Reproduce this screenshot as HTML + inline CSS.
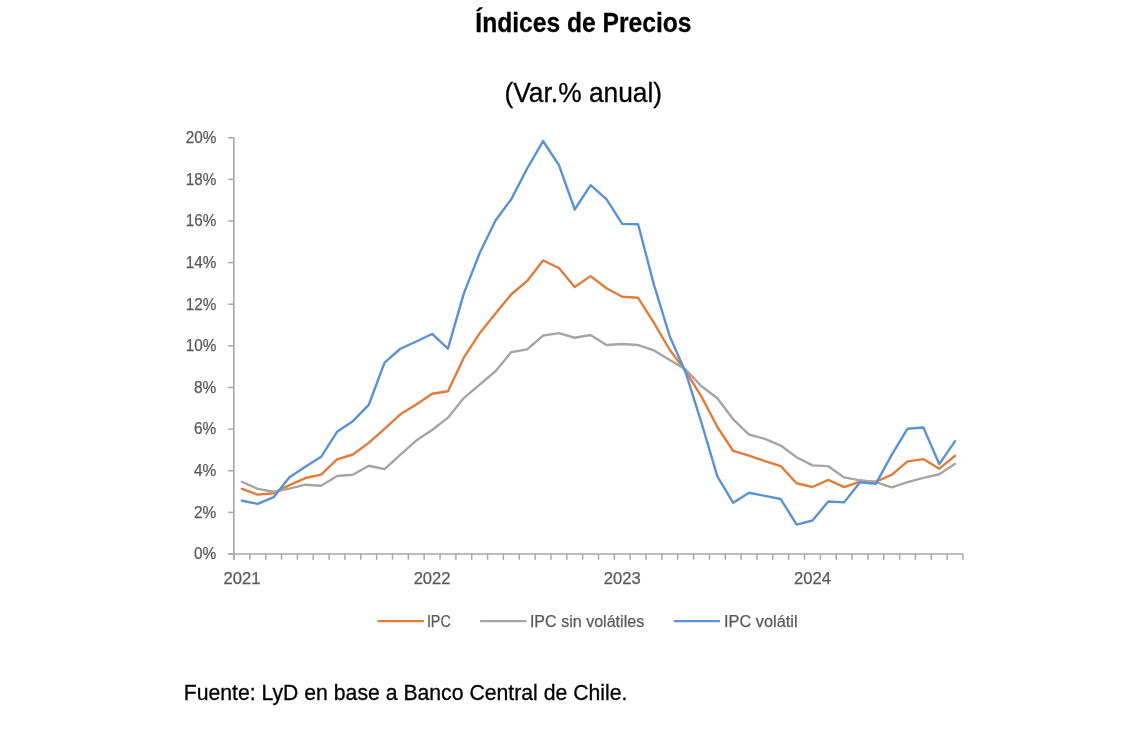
<!DOCTYPE html>
<html><head><meta charset="utf-8"><style>
html,body{margin:0;padding:0;background:#fff;width:1142px;height:752px;overflow:hidden}
svg{display:block;will-change:transform}
text{font-family:"Liberation Sans",sans-serif}
.yl{font-size:16.6px;fill:#595959;stroke:#595959;stroke-width:0.25px}
.xl{font-size:16.6px;fill:#595959;stroke:#595959;stroke-width:0.25px}
.lg{font-size:17px;fill:#595959;stroke:#595959;stroke-width:0.25px}
.t1{font-size:27px;font-weight:bold;fill:#000;stroke:#000;stroke-width:0.3px}
.t2{font-size:27.5px;fill:#000;stroke:#000;stroke-width:0.3px}
.ft{font-size:22.3px;fill:#000;stroke:#000;stroke-width:0.3px}
</style></head><body>
<svg width="1142" height="752" viewBox="0 0 1142 752">
<line x1="228.3" y1="554.00" x2="234" y2="554.00" stroke="#a6a6a6" stroke-width="1.5"/>
<text x="216.3" y="559.30" text-anchor="end" class="yl" textLength="22.3" lengthAdjust="spacingAndGlyphs">0%</text>
<line x1="228.3" y1="512.37" x2="234" y2="512.37" stroke="#a6a6a6" stroke-width="1.5"/>
<text x="216.3" y="517.67" text-anchor="end" class="yl" textLength="22.3" lengthAdjust="spacingAndGlyphs">2%</text>
<line x1="228.3" y1="470.74" x2="234" y2="470.74" stroke="#a6a6a6" stroke-width="1.5"/>
<text x="216.3" y="476.04" text-anchor="end" class="yl" textLength="22.3" lengthAdjust="spacingAndGlyphs">4%</text>
<line x1="228.3" y1="429.11" x2="234" y2="429.11" stroke="#a6a6a6" stroke-width="1.5"/>
<text x="216.3" y="434.41" text-anchor="end" class="yl" textLength="22.3" lengthAdjust="spacingAndGlyphs">6%</text>
<line x1="228.3" y1="387.48" x2="234" y2="387.48" stroke="#a6a6a6" stroke-width="1.5"/>
<text x="216.3" y="392.78" text-anchor="end" class="yl" textLength="22.3" lengthAdjust="spacingAndGlyphs">8%</text>
<line x1="228.3" y1="345.85" x2="234" y2="345.85" stroke="#a6a6a6" stroke-width="1.5"/>
<text x="216.3" y="351.15" text-anchor="end" class="yl" textLength="30.6" lengthAdjust="spacingAndGlyphs">10%</text>
<line x1="228.3" y1="304.22" x2="234" y2="304.22" stroke="#a6a6a6" stroke-width="1.5"/>
<text x="216.3" y="309.52" text-anchor="end" class="yl" textLength="30.6" lengthAdjust="spacingAndGlyphs">12%</text>
<line x1="228.3" y1="262.59" x2="234" y2="262.59" stroke="#a6a6a6" stroke-width="1.5"/>
<text x="216.3" y="267.89" text-anchor="end" class="yl" textLength="30.6" lengthAdjust="spacingAndGlyphs">14%</text>
<line x1="228.3" y1="220.96" x2="234" y2="220.96" stroke="#a6a6a6" stroke-width="1.5"/>
<text x="216.3" y="226.26" text-anchor="end" class="yl" textLength="30.6" lengthAdjust="spacingAndGlyphs">16%</text>
<line x1="228.3" y1="179.33" x2="234" y2="179.33" stroke="#a6a6a6" stroke-width="1.5"/>
<text x="216.3" y="184.63" text-anchor="end" class="yl" textLength="30.6" lengthAdjust="spacingAndGlyphs">18%</text>
<line x1="228.3" y1="137.70" x2="234" y2="137.70" stroke="#a6a6a6" stroke-width="1.5"/>
<text x="216.3" y="143.00" text-anchor="end" class="yl" textLength="30.6" lengthAdjust="spacingAndGlyphs">20%</text>
<line x1="234.00" y1="554.0" x2="234.00" y2="559.7" stroke="#a6a6a6" stroke-width="1.5"/>
<line x1="249.85" y1="554.0" x2="249.85" y2="559.7" stroke="#a6a6a6" stroke-width="1.5"/>
<line x1="265.70" y1="554.0" x2="265.70" y2="559.7" stroke="#a6a6a6" stroke-width="1.5"/>
<line x1="281.54" y1="554.0" x2="281.54" y2="559.7" stroke="#a6a6a6" stroke-width="1.5"/>
<line x1="297.39" y1="554.0" x2="297.39" y2="559.7" stroke="#a6a6a6" stroke-width="1.5"/>
<line x1="313.24" y1="554.0" x2="313.24" y2="559.7" stroke="#a6a6a6" stroke-width="1.5"/>
<line x1="329.09" y1="554.0" x2="329.09" y2="559.7" stroke="#a6a6a6" stroke-width="1.5"/>
<line x1="344.93" y1="554.0" x2="344.93" y2="559.7" stroke="#a6a6a6" stroke-width="1.5"/>
<line x1="360.78" y1="554.0" x2="360.78" y2="559.7" stroke="#a6a6a6" stroke-width="1.5"/>
<line x1="376.63" y1="554.0" x2="376.63" y2="559.7" stroke="#a6a6a6" stroke-width="1.5"/>
<line x1="392.48" y1="554.0" x2="392.48" y2="559.7" stroke="#a6a6a6" stroke-width="1.5"/>
<line x1="408.33" y1="554.0" x2="408.33" y2="559.7" stroke="#a6a6a6" stroke-width="1.5"/>
<line x1="424.17" y1="554.0" x2="424.17" y2="559.7" stroke="#a6a6a6" stroke-width="1.5"/>
<line x1="440.02" y1="554.0" x2="440.02" y2="559.7" stroke="#a6a6a6" stroke-width="1.5"/>
<line x1="455.87" y1="554.0" x2="455.87" y2="559.7" stroke="#a6a6a6" stroke-width="1.5"/>
<line x1="471.72" y1="554.0" x2="471.72" y2="559.7" stroke="#a6a6a6" stroke-width="1.5"/>
<line x1="487.57" y1="554.0" x2="487.57" y2="559.7" stroke="#a6a6a6" stroke-width="1.5"/>
<line x1="503.41" y1="554.0" x2="503.41" y2="559.7" stroke="#a6a6a6" stroke-width="1.5"/>
<line x1="519.26" y1="554.0" x2="519.26" y2="559.7" stroke="#a6a6a6" stroke-width="1.5"/>
<line x1="535.11" y1="554.0" x2="535.11" y2="559.7" stroke="#a6a6a6" stroke-width="1.5"/>
<line x1="550.96" y1="554.0" x2="550.96" y2="559.7" stroke="#a6a6a6" stroke-width="1.5"/>
<line x1="566.80" y1="554.0" x2="566.80" y2="559.7" stroke="#a6a6a6" stroke-width="1.5"/>
<line x1="582.65" y1="554.0" x2="582.65" y2="559.7" stroke="#a6a6a6" stroke-width="1.5"/>
<line x1="598.50" y1="554.0" x2="598.50" y2="559.7" stroke="#a6a6a6" stroke-width="1.5"/>
<line x1="614.35" y1="554.0" x2="614.35" y2="559.7" stroke="#a6a6a6" stroke-width="1.5"/>
<line x1="630.20" y1="554.0" x2="630.20" y2="559.7" stroke="#a6a6a6" stroke-width="1.5"/>
<line x1="646.04" y1="554.0" x2="646.04" y2="559.7" stroke="#a6a6a6" stroke-width="1.5"/>
<line x1="661.89" y1="554.0" x2="661.89" y2="559.7" stroke="#a6a6a6" stroke-width="1.5"/>
<line x1="677.74" y1="554.0" x2="677.74" y2="559.7" stroke="#a6a6a6" stroke-width="1.5"/>
<line x1="693.59" y1="554.0" x2="693.59" y2="559.7" stroke="#a6a6a6" stroke-width="1.5"/>
<line x1="709.43" y1="554.0" x2="709.43" y2="559.7" stroke="#a6a6a6" stroke-width="1.5"/>
<line x1="725.28" y1="554.0" x2="725.28" y2="559.7" stroke="#a6a6a6" stroke-width="1.5"/>
<line x1="741.13" y1="554.0" x2="741.13" y2="559.7" stroke="#a6a6a6" stroke-width="1.5"/>
<line x1="756.98" y1="554.0" x2="756.98" y2="559.7" stroke="#a6a6a6" stroke-width="1.5"/>
<line x1="772.83" y1="554.0" x2="772.83" y2="559.7" stroke="#a6a6a6" stroke-width="1.5"/>
<line x1="788.67" y1="554.0" x2="788.67" y2="559.7" stroke="#a6a6a6" stroke-width="1.5"/>
<line x1="804.52" y1="554.0" x2="804.52" y2="559.7" stroke="#a6a6a6" stroke-width="1.5"/>
<line x1="820.37" y1="554.0" x2="820.37" y2="559.7" stroke="#a6a6a6" stroke-width="1.5"/>
<line x1="836.22" y1="554.0" x2="836.22" y2="559.7" stroke="#a6a6a6" stroke-width="1.5"/>
<line x1="852.07" y1="554.0" x2="852.07" y2="559.7" stroke="#a6a6a6" stroke-width="1.5"/>
<line x1="867.91" y1="554.0" x2="867.91" y2="559.7" stroke="#a6a6a6" stroke-width="1.5"/>
<line x1="883.76" y1="554.0" x2="883.76" y2="559.7" stroke="#a6a6a6" stroke-width="1.5"/>
<line x1="899.61" y1="554.0" x2="899.61" y2="559.7" stroke="#a6a6a6" stroke-width="1.5"/>
<line x1="915.46" y1="554.0" x2="915.46" y2="559.7" stroke="#a6a6a6" stroke-width="1.5"/>
<line x1="931.30" y1="554.0" x2="931.30" y2="559.7" stroke="#a6a6a6" stroke-width="1.5"/>
<line x1="947.15" y1="554.0" x2="947.15" y2="559.7" stroke="#a6a6a6" stroke-width="1.5"/>
<line x1="963.00" y1="554.0" x2="963.00" y2="559.7" stroke="#a6a6a6" stroke-width="1.5"/>
<line x1="233.8" y1="137.0" x2="233.8" y2="559.7" stroke="#a6a6a6" stroke-width="1.6"/>
<line x1="228.3" y1="554.0" x2="963.2" y2="554.0" stroke="#a6a6a6" stroke-width="1.6"/>
<text x="241.92" y="583.8" text-anchor="middle" class="xl">2021</text>
<text x="432.10" y="583.8" text-anchor="middle" class="xl">2022</text>
<text x="622.27" y="583.8" text-anchor="middle" class="xl">2023</text>
<text x="812.45" y="583.8" text-anchor="middle" class="xl">2024</text>
<polyline points="241.92,488.85 257.77,494.68 273.62,493.22 289.47,485.10 305.32,478.03 321.16,474.69 337.01,459.29 352.86,454.50 368.71,442.85 384.55,428.90 400.40,414.33 416.25,404.55 432.10,393.72 447.95,391.23 463.79,357.71 479.64,333.36 495.49,313.59 511.34,294.23 527.18,280.91 543.03,260.51 558.88,268.00 574.73,286.94 590.58,276.12 606.42,288.19 622.27,296.73 638.12,297.77 653.97,322.95 669.82,350.01 685.66,371.04 701.51,396.64 717.36,427.03 733.21,450.97 749.05,455.55 764.90,461.17 780.75,466.16 796.60,483.23 812.45,486.98 828.29,479.90 844.14,487.18 859.99,481.56 875.84,481.77 891.68,474.90 907.53,461.37 923.38,459.08 939.23,468.66 955.08,455.75" fill="none" stroke="#e37b3a" stroke-width="2.4" stroke-linejoin="round" stroke-linecap="round"/>
<polyline points="241.92,481.77 257.77,488.85 273.62,491.76 289.47,488.64 305.32,484.69 321.16,485.73 337.01,475.94 352.86,474.69 368.71,465.74 384.55,469.07 400.40,454.71 416.25,440.56 432.10,429.94 447.95,417.66 463.79,398.10 479.64,384.57 495.49,371.24 511.34,352.09 527.18,349.39 543.03,335.65 558.88,333.15 574.73,337.73 590.58,335.03 606.42,345.02 622.27,343.98 638.12,345.02 653.97,350.43 669.82,360.00 685.66,369.58 701.51,386.23 717.36,398.30 733.21,419.33 749.05,434.52 764.90,438.89 780.75,445.55 796.60,457.21 812.45,465.33 828.29,466.16 844.14,477.40 859.99,480.31 875.84,482.19 891.68,487.39 907.53,482.19 923.38,477.82 939.23,474.28 955.08,463.87" fill="none" stroke="#a5a5a5" stroke-width="2.4" stroke-linejoin="round" stroke-linecap="round"/>
<polyline points="241.92,500.71 257.77,503.84 273.62,497.18 289.47,477.19 305.32,466.79 321.16,456.79 337.01,431.82 352.86,421.20 368.71,404.96 384.55,362.71 400.40,348.76 416.25,341.48 432.10,333.99 447.95,348.56 463.79,293.60 479.64,253.22 495.49,220.54 511.34,199.10 527.18,168.51 543.03,141.03 558.88,164.97 574.73,209.51 590.58,185.16 606.42,199.10 622.27,223.87 638.12,224.29 653.97,284.86 669.82,336.48 685.66,372.49 701.51,422.87 717.36,476.36 733.21,502.80 749.05,492.80 764.90,495.93 780.75,499.05 796.60,524.65 812.45,520.49 828.29,501.55 844.14,502.38 859.99,482.19 875.84,483.85 891.68,454.92 907.53,428.69 923.38,427.44 939.23,464.08 955.08,441.18" fill="none" stroke="#5a92d3" stroke-width="2.4" stroke-linejoin="round" stroke-linecap="round"/>
<line x1="378.5" y1="621.1" x2="423" y2="621.1" stroke="#e37b3a" stroke-width="2.4" stroke-linecap="round"/>
<text x="426.9" y="627" class="lg" textLength="23.9" lengthAdjust="spacingAndGlyphs">IPC</text>
<line x1="481" y1="621.1" x2="525.5" y2="621.1" stroke="#a5a5a5" stroke-width="2.4" stroke-linecap="round"/>
<text x="529.9" y="627" class="lg" textLength="114.3" lengthAdjust="spacingAndGlyphs">IPC sin volátiles</text>
<line x1="675" y1="621.1" x2="719" y2="621.1" stroke="#5a92d3" stroke-width="2.4" stroke-linecap="round"/>
<text x="724.0" y="627" class="lg" textLength="73.6" lengthAdjust="spacingAndGlyphs">IPC volátil</text>
<text x="583.4" y="31.9" text-anchor="middle" class="t1" textLength="216.1" lengthAdjust="spacingAndGlyphs">Índices de Precios</text>
<text x="583.3" y="101.5" text-anchor="middle" class="t2" textLength="157.7" lengthAdjust="spacingAndGlyphs">(Var.% anual)</text>
<text x="183.7" y="700" class="ft" textLength="443.7" lengthAdjust="spacingAndGlyphs">Fuente: LyD en base a Banco Central de Chile.</text>
</svg>
</body></html>
